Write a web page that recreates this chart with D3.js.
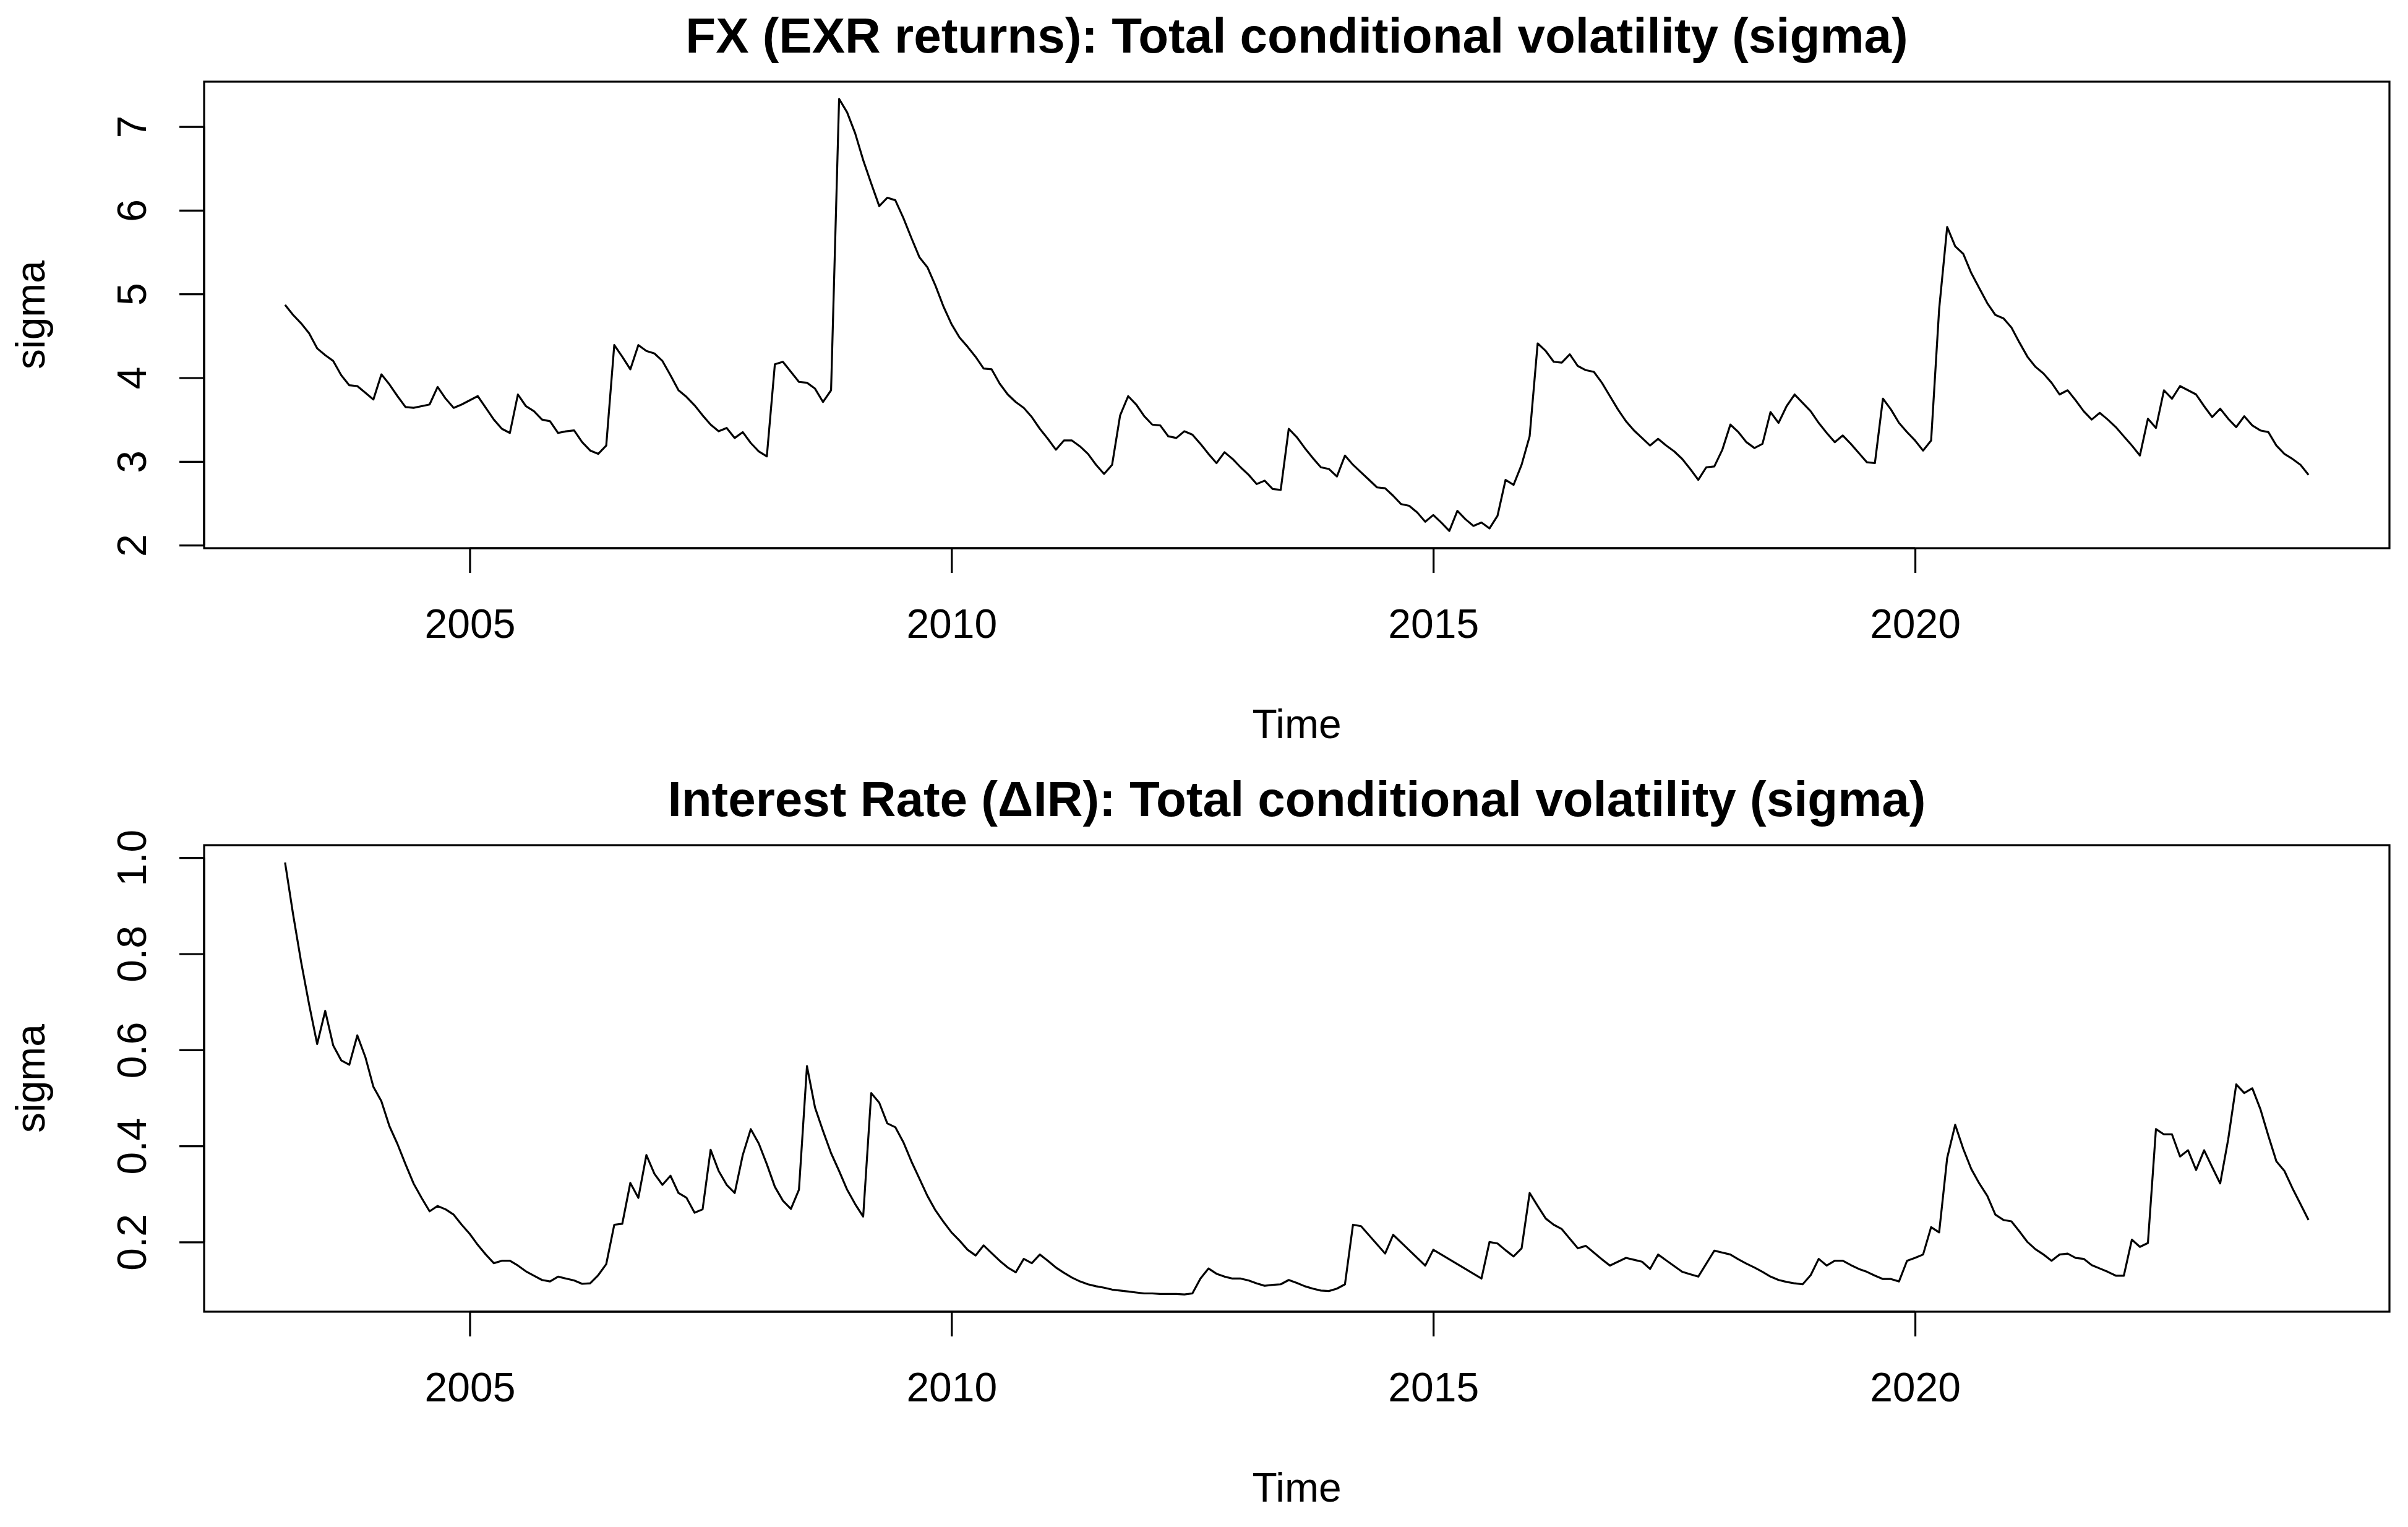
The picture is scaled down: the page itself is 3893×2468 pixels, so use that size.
<!DOCTYPE html>
<html><head><meta charset="utf-8">
<script src="https://cdn.jsdelivr.net/npm/d3@7"></script>
<style>
html,body{margin:0;padding:0;background:#fff;}
svg{display:block;}
text{font-family:"Liberation Sans",Arial,Helvetica,sans-serif;fill:#000;}
</style>
</head><body>
<svg id="chart" width="3893" height="2468"></svg>
<script>
// monthly series, starting Feb 2003 (frequency 12)
const seriesStart = 2003 + 1/12;
const seriesFrequency = 12;

const fxSigma = [
4.87,4.75,4.65,4.53,4.35,4.27,4.20,4.03,3.91,3.90,3.82,3.74,
4.04,3.92,3.78,3.65,3.64,3.66,3.68,3.89,3.75,3.64,3.68,3.73,
3.78,3.64,3.50,3.39,3.34,3.80,3.66,3.60,3.50,3.48,3.34,3.36,
3.37,3.23,3.13,3.09,3.19,4.39,4.25,4.10,4.39,4.32,4.29,4.20,
4.03,3.85,3.77,3.67,3.55,3.44,3.36,3.40,3.28,3.35,3.22,3.12,
3.06,4.16,4.19,4.07,3.95,3.94,3.87,3.71,3.85,7.33,7.17,6.92,
6.60,6.32,6.05,6.15,6.12,5.91,5.67,5.44,5.32,5.10,4.85,4.64,
4.48,4.37,4.25,4.11,4.10,3.93,3.80,3.71,3.64,3.53,3.39,3.27,
3.14,3.25,3.25,3.18,3.09,2.96,2.85,2.96,3.55,3.78,3.68,3.54,
3.44,3.43,3.30,3.28,3.36,3.32,3.21,3.09,2.98,3.11,3.03,2.93,
2.84,2.73,2.77,2.67,2.66,3.39,3.29,3.16,3.04,2.93,2.91,2.82,
3.07,2.96,2.87,2.78,2.69,2.68,2.59,2.49,2.47,2.39,2.28,2.36,
2.27,2.17,2.41,2.31,2.23,2.27,2.20,2.35,2.78,2.72,2.96,3.30,
4.41,4.32,4.19,4.18,4.28,4.14,4.09,4.07,3.94,3.78,3.62,3.48,
3.37,3.28,3.19,3.27,3.19,3.12,3.03,2.91,2.78,2.93,2.94,3.14,
3.44,3.35,3.23,3.16,3.21,3.59,3.46,3.66,3.80,3.70,3.60,3.46,
3.34,3.23,3.31,3.21,3.10,2.99,2.98,3.75,3.62,3.46,3.35,3.25,
3.13,3.25,4.82,5.80,5.57,5.48,5.25,5.07,4.89,4.75,4.71,4.60,
4.42,4.25,4.13,4.05,3.94,3.80,3.85,3.73,3.60,3.50,3.58,3.50,
3.41,3.30,3.19,3.07,3.51,3.40,3.85,3.75,3.90,3.85,3.80,3.66,
3.53,3.63,3.51,3.41,3.54,3.43,3.37,3.35,3.19,3.09,3.03,2.96,
2.84
];

const irSigma = [
0.990,0.882,0.783,0.694,0.612,0.681,0.609,0.578,0.569,0.630,0.585,0.523,
0.493,0.441,0.404,0.362,0.322,0.292,0.264,0.275,0.268,0.257,0.236,0.217,
0.194,0.174,0.156,0.161,0.161,0.151,0.139,0.130,0.121,0.118,0.128,0.124,
0.120,0.113,0.114,0.131,0.154,0.236,0.238,0.323,0.292,0.381,0.342,0.319,
0.338,0.302,0.292,0.261,0.268,0.392,0.348,0.319,0.302,0.381,0.435,0.405,
0.362,0.315,0.286,0.269,0.309,0.566,0.480,0.431,0.385,0.348,0.309,0.279,
0.253,0.510,0.490,0.447,0.439,0.408,0.368,0.332,0.296,0.266,0.242,0.220,
0.203,0.184,0.172,0.193,0.177,0.161,0.147,0.137,0.165,0.156,0.174,0.161,
0.147,0.136,0.126,0.118,0.112,0.108,0.105,0.101,0.099,0.097,0.095,0.093,
0.093,0.092,0.092,0.092,0.091,0.093,0.124,0.145,0.134,0.128,0.124,0.124,
0.120,0.114,0.109,0.111,0.112,0.121,0.115,0.108,0.103,0.099,0.098,0.103,
0.112,0.236,0.233,0.214,0.195,0.176,0.215,0.199,0.183,0.167,0.151,0.184,
0.174,0.164,0.154,0.144,0.134,0.124,0.200,0.197,0.183,0.170,0.187,0.302,
0.275,0.249,0.236,0.227,0.207,0.187,0.192,0.178,0.164,0.151,0.159,0.167,
0.163,0.159,0.144,0.174,0.162,0.150,0.138,0.133,0.128,0.155,0.182,0.178,
0.174,0.164,0.155,0.147,0.138,0.128,0.121,0.117,0.114,0.112,0.131,0.165,
0.151,0.161,0.161,0.152,0.144,0.138,0.130,0.123,0.123,0.118,0.161,0.167,
0.174,0.231,0.220,0.375,0.444,0.394,0.352,0.322,0.296,0.257,0.246,0.243,
0.222,0.200,0.185,0.174,0.161,0.174,0.176,0.167,0.165,0.152,0.145,0.138,
0.130,0.130,0.205,0.190,0.198,0.435,0.424,0.424,0.378,0.391,0.350,0.391,
0.356,0.322,0.414,0.528,0.510,0.520,0.477,0.421,0.368,0.348,0.312,0.279,
0.246
];

const xTickYears = [2005, 2010, 2015, 2020];
const fxYTicks = [2, 3, 4, 5, 6, 7];
const irYTicks = [0.2, 0.4, 0.6, 0.8, 1.0];
const panelTitles = [
  "FX (EXR returns): Total conditional volatility (sigma)",
  "Interest Rate (\u0394IR): Total conditional volatility (sigma)"
];
const xLabel = "Time";
const yLabel = "sigma";

// ---- layout ----
const W = 3893, H = 2468;
const panelH = 1234;
const box = {left: 330, right: 3863, top: 132, bottom: 886};
const lw = 3.2;
const tickFont = 66, titleFont = 80;

const svg = d3.select("#chart");
svg.append("rect").attr("width", W).attr("height", H).attr("fill", "#fff");

// R-style 4% range extension
function rRange(ext) {
  const d = ext[1] - ext[0];
  return [ext[0] - 0.04 * d, ext[1] + 0.04 * d];
}

function timeOf(i) { return seriesStart + i / seriesFrequency; }

function drawPanel(offsetY, values, yTicks, yFmt, title) {
  const g = svg.append("g").attr("transform", `translate(0,${offsetY})`);
  const tExt = [timeOf(0), timeOf(values.length - 1)];
  const x = d3.scaleLinear().domain(rRange(tExt)).range([box.left, box.right]);
  const y = d3.scaleLinear().domain(rRange(d3.extent(values))).range([box.bottom, box.top]);

  // line
  const line = d3.line().x((d, i) => x(timeOf(i))).y(d => y(d));
  g.append("path").datum(values)
    .attr("d", line).attr("fill", "none").attr("stroke", "#000")
    .attr("stroke-width", lw).attr("stroke-linejoin", "round").attr("stroke-linecap", "butt");

  // x axis
  const xa = g.append("g").attr("transform", `translate(0,${box.bottom})`)
    .call(d3.axisBottom(x).tickValues(xTickYears).tickFormat(d3.format("d")).tickSize(40).tickSizeOuter(0));
  xa.select(".domain").remove();
  xa.selectAll(".tick line").attr("stroke", "#000").attr("stroke-width", lw);
  xa.selectAll(".tick text").attr("y", 145).attr("dy", 0)
    .style("font-size", tickFont + "px").attr("fill", "#000");
  xa.append("line").attr("x1", x(xTickYears[0])).attr("x2", x(xTickYears[xTickYears.length - 1]))
    .attr("stroke", "#000").attr("stroke-width", lw);

  // y axis
  const ya = g.append("g").attr("transform", `translate(${box.left},0)`)
    .call(d3.axisLeft(y).tickValues(yTicks).tickFormat(yFmt).tickSize(40).tickSizeOuter(0));
  ya.select(".domain").remove();
  ya.selectAll(".tick line").attr("stroke", "#000").attr("stroke-width", lw);
  ya.selectAll(".tick text").attr("transform", "rotate(-90)")
    .attr("x", 0).attr("y", -94).attr("dy", 0).attr("text-anchor", "middle")
    .style("font-size", tickFont + "px").attr("fill", "#000");
  ya.append("line").attr("y1", y(yTicks[0])).attr("y2", y(yTicks[yTicks.length - 1]))
    .attr("stroke", "#000").attr("stroke-width", lw);

  // box
  g.append("rect").attr("x", box.left).attr("y", box.top)
    .attr("width", box.right - box.left).attr("height", box.bottom - box.top)
    .attr("fill", "none").attr("stroke", "#000").attr("stroke-width", lw);

  const cx = (box.left + box.right) / 2;
  // title
  g.append("text").attr("x", cx).attr("y", 85).attr("text-anchor", "middle")
    .style("font-size", titleFont + "px").style("font-weight", "bold").text(title);
  // x label
  g.append("text").attr("x", cx).attr("y", 1193).attr("text-anchor", "middle")
    .style("font-size", tickFont + "px").text(xLabel);
  // y label
  g.append("text").attr("transform", `translate(72,${(box.top + box.bottom) / 2}) rotate(-90)`)
    .attr("text-anchor", "middle").style("font-size", tickFont + "px").text(yLabel);
}

drawPanel(0, fxSigma, fxYTicks, d3.format("d"), panelTitles[0]);
drawPanel(panelH, irSigma, irYTicks, d3.format(".1f"), panelTitles[1]);
</script>
</body></html>
